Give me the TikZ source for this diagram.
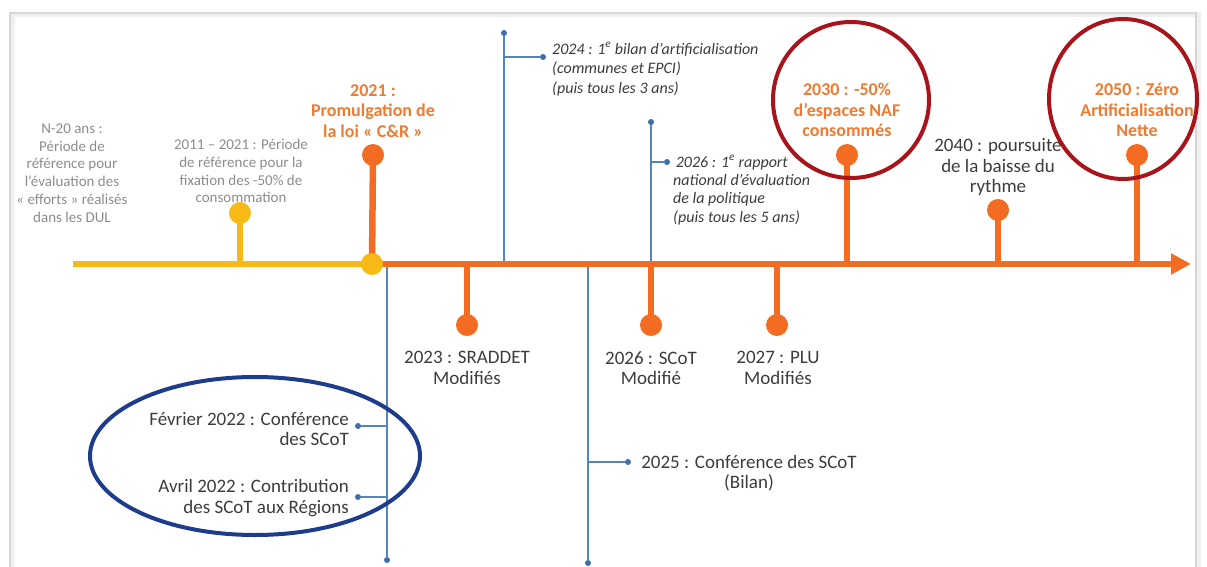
\documentclass[tikz,border=0pt]{standalone}
\usepackage{fontspec}
\setmainfont{Carlito}
\usetikzlibrary{arrows.meta,shapes.geometric}
\definecolor{orng}{HTML}{F36C21}
\definecolor{otxt}{HTML}{EF7B30}
\definecolor{ylw}{HTML}{F7B916}
\definecolor{blu}{HTML}{5585BF}
\definecolor{bdotc}{HTML}{3E6FA8}
\definecolor{navy}{HTML}{1E3C8C}
\definecolor{dred}{HTML}{A8141C}
\definecolor{gtxt}{HTML}{8C8C8C}
\definecolor{dtxt}{HTML}{3C3C3C}
\definecolor{frm}{HTML}{D6D6D6}
\begin{document}
\begin{tikzpicture}[x=1pt,y=-1pt,
 odot/.style={circle,fill=orng,inner sep=0pt,minimum size=22pt},
 ydot/.style={circle,fill=ylw,inner sep=0pt,minimum size=22pt},
 bdot/.style={circle,fill=bdotc,inner sep=0pt,minimum size=6pt},
 ostem/.style={draw=orng,line width=6.5pt},
 ystem/.style={draw=ylw,line width=6.5pt},
 bline/.style={draw=blu,line width=1.6pt},
 graytxt/.style={text=gtxt,align=center,font=\fontsize{15}{17.8}\selectfont,inner sep=0pt},
 orgtxt/.style={text=otxt,align=center,font=\bfseries\fontsize{18}{20.5}\selectfont,inner sep=0pt},
 darktxt/.style={text=dtxt,align=center,font=\fontsize{19}{20.5}\selectfont,inner sep=0pt},
 ittxt/.style={text=dtxt,align=left,font=\itshape\fontsize{16}{19.5}\selectfont,inner sep=0pt},
 ring/.style={draw=dred,line width=4pt,ellipse,inner sep=0pt},
 bring/.style={draw=navy,line width=4pt,ellipse,inner sep=0pt},
]
\useasboundingbox (0,0) rectangle (1207,567);
% frame
\draw[gray!12,line width=5pt] (12,567) -- (12,15) -- (1198,15) -- (1198,567);
\draw[frm,line width=2.5pt] (10,567) -- (10,13) -- (1196,13) -- (1196,567);

% timeline coordinates
\coordinate (ystart) at (73,264);
\coordinate (t0) at (372,264);
\coordinate (tip) at (1191,264);
\coordinate (t2011) at (240,264);
\coordinate (t2023) at (467,264);
\coordinate (t2026) at (651,264);
\coordinate (t2027) at (777,264);
\coordinate (t2030) at (847,264);
\coordinate (t2040) at (998,264);
\coordinate (t2050) at (1137,264);
\coordinate (tb1) at (387,264);
\coordinate (tb2) at (504,264);
\coordinate (tb3) at (588,264);
\coordinate (tb4) at (651,264);
\coordinate (b1a) at (387,426);
\coordinate (b1b) at (387,497);
\coordinate (b2a) at (504,57);
\coordinate (b3a) at (588,462);
\coordinate (b4a) at (651,162);

% blue dots
\node[bdot] (b1end) at (387,560) {};
\node[bdot] (fev) at (358,426) {};
\node[bdot] (avr) at (358,497) {};
\node[bdot] (b2top) at (504,33) {};
\node[bdot] (d2024) at (543,57) {};
\node[bdot] (b3end) at (588,563) {};
\node[bdot] (d2025) at (628,462) {};
\node[bdot] (b4top) at (651,122) {};
\node[bdot] (d2026r) at (667,162) {};

% blue lines
\draw[bline] (tb1) -- (b1end);
\draw[bline] (b1a) -- (fev);
\draw[bline] (b1b) -- (avr);
\draw[bline] (b2top) -- (tb2);
\draw[bline] (b2a) -- (d2024);
\draw[bline] (tb3) -- (b3end);
\draw[bline] (b3a) -- (d2025);
\draw[bline] (b4top) -- (tb4);
\draw[bline] (b4a) -- (d2026r);

% orange dots
\node[odot] (d2021) at (373,155) {};
\node[odot] (d2023) at (467,325) {};
\node[odot] (d2026) at (651,325) {};
\node[odot] (d2027) at (777,325) {};
\node[odot] (d2030) at (847,155) {};
\node[odot] (d2040) at (998,210) {};
\node[odot] (d2050) at (1137,155) {};
\node[ydot] (d2011) at (240,213) {};

% stems
\draw[ostem] (t0) -- (d2021.center);
\draw[ostem] (t2023) -- (d2023.center);
\draw[ostem] (t2026) -- (d2026.center);
\draw[ostem] (t2027) -- (d2027.center);
\draw[ostem] (t2030) -- (d2030.center);
\draw[ostem] (t2040) -- (d2040.center);
\draw[ostem] (t2050) -- (d2050.center);
\draw[ystem] (t2011) -- (d2011.center);

% main line
\draw[ostem,-{Triangle[length=20pt,width=20pt]}] (t0) -- (tip);
\draw[ystem] (ystart) -- (t0);
\node[ydot] (jct) at (t0) {};

% texts
\node[graytxt] (tN20) at (72,173) {N-20 ans :\\Période de\\référence pour\\l’évaluation des\\«~efforts~» réalisés\\dans les DUL};
\node[graytxt] (t2011txt) at (241,171) {2011 – 2021 : Période\\de référence pour la\\fixation des -50\% de\\consommation};
\node[orgtxt] (t2021txt) at (373,111) {2021 :\\Promulgation de\\la loi «~C\&R~»};
\node[ittxt,anchor=west] (t2024txt) at (552,69) {2024 : 1\textsuperscript{e} bilan d’artificialisation\\(communes et EPCI)\\(puis tous les 3 ans)};
\node[ittxt,anchor=west,font=\itshape\fontsize{16}{18.3}\selectfont] (t2026txt) at (673,190) {\,2026 : 1\textsuperscript{e} rapport\\national d’évaluation\\de la politique\\(puis tous les 5 ans)};
\node[orgtxt] (t2030txt) at (847,110) {2030 : -50\%\\d’espaces NAF\\consommés};
\node[darktxt] (t2040txt) at (998,167) {2040 : poursuite\\de la baisse du\\rythme};
\node[orgtxt] (t2050txt) at (1137,110) {2050 : Zéro\\Artificialisation\\Nette};
\node[darktxt] (t2023txt) at (467,368) {2023 : SRADDET\\Modifiés};
\node[darktxt] (t2026btxt) at (651,368) {2026 : SCoT\\Modifié};
\node[darktxt] (t2027txt) at (778,368) {2027 : PLU\\Modifiés};
\node[darktxt,align=right,anchor=east] (tfev) at (349,429) {Février 2022 : Conférence\\des SCoT};
\node[darktxt,align=right,anchor=east] (tavr) at (349,498) {Avril 2022 : Contribution\\des SCoT aux Régions};
\node[darktxt] (t2025txt) at (749,473) {2025 : Conférence des SCoT\\(Bilan)};

% highlight rings
\node[ring,minimum width=156pt,minimum height=156pt] (ring2030) at (851,100) {};
\node[ring,minimum width=148pt,minimum height=160pt] (ring2050) at (1123,99) {};
\node[bring,minimum width=330pt,minimum height=158pt] (ring2022) at (255,456) {};
\end{tikzpicture}
\end{document}
